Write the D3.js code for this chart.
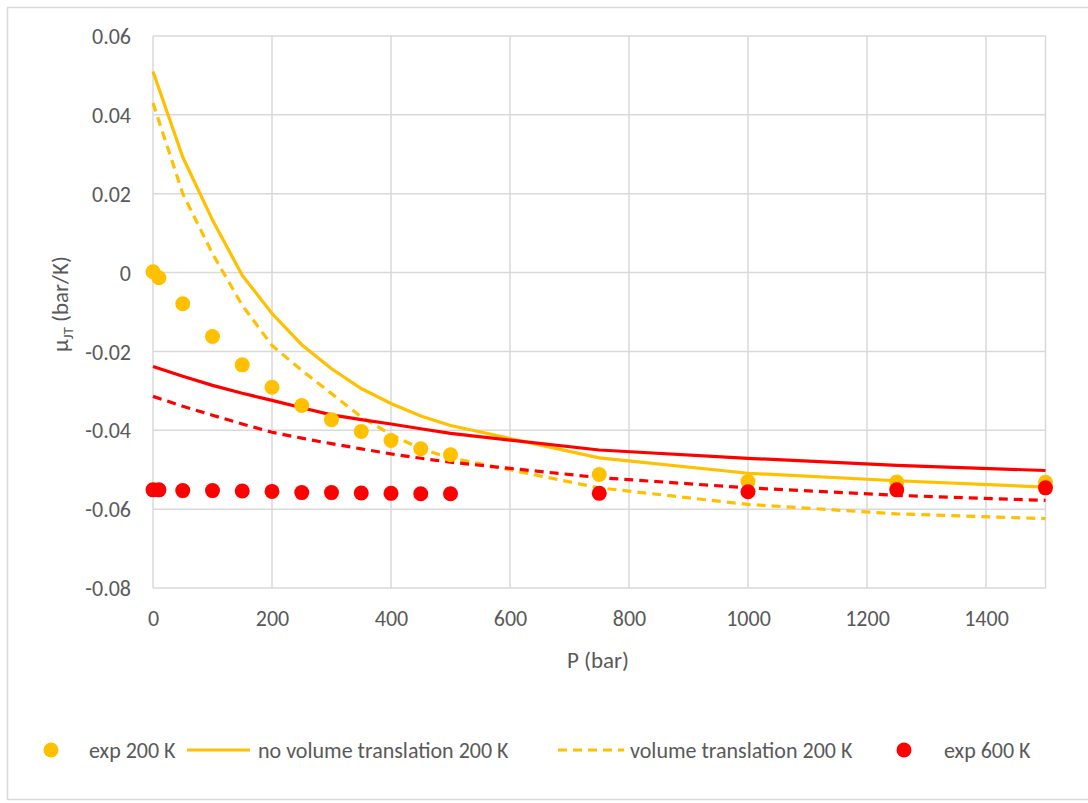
<!DOCTYPE html>
<html>
<head>
<meta charset="utf-8">
<script src="https://cdn.jsdelivr.net/npm/d3@7"></script>
<style>
  body { margin: 0; background: #fff; }
  text { font-family: Carlito, Calibri, "Open Sans", sans-serif; fill: #595959; }
</style>
</head>
<body>
<div id="chart"></div>
<script>
// pressures (bar)
var expP = [0, 10, 50, 100, 150, 200, 250, 300, 350, 400, 450, 500, 750, 1000, 1250, 1500];
var exp200 = [0.0002, -0.0013, -0.0079, -0.0162, -0.0234, -0.0291, -0.0337, -0.0373, -0.0403, -0.0426, -0.0447, -0.0462, -0.0512, -0.0530, -0.0531, -0.0532];
var exp600 = [-0.0551, -0.0551, -0.0553, -0.0553, -0.0554, -0.0555, -0.0558, -0.0558, -0.0559, -0.0560, -0.0561, -0.0561, -0.0560, -0.0556, -0.0551, -0.0546];

var modelP = [0, 50, 100, 150, 200, 250, 300, 350, 400, 450, 500, 750, 1000, 1250, 1500];
var noVT200 = [0.0510, 0.0293, 0.0133, -0.0007, -0.0104, -0.0183, -0.0244, -0.0294, -0.0332, -0.0364, -0.0388, -0.0470, -0.0509, -0.0528, -0.0544];
var vt200 = [0.0430, 0.0200, 0.0048, -0.0083, -0.0185, -0.0248, -0.0307, -0.0366, -0.0411, -0.0447, -0.0470, -0.0546, -0.0588, -0.0612, -0.0624];
var noVT600 = [-0.0238, -0.0263, -0.0286, -0.0306, -0.0324, -0.0343, -0.0361, -0.0373, -0.0384, -0.0396, -0.0408, -0.0450, -0.0471, -0.0489, -0.0502];
var vt600 = [-0.0314, -0.0339, -0.0362, -0.0384, -0.0405, -0.0420, -0.0434, -0.0447, -0.0460, -0.0471, -0.0481, -0.0520, -0.0546, -0.0565, -0.0578];

var xTicks = [0, 200, 400, 600, 800, 1000, 1200, 1400];
var yTicks = [0.06, 0.04, 0.02, 0, -0.02, -0.04, -0.06, -0.08];

var yellow = "#FFC000", red = "#FF0000";

var width = 1088, height = 803;
var margin = { top: 36, left: 153, right: 42, bottom: 215 };
var fontSize = "22px";

var svg = d3.select("#chart").append("svg")
      .attr("width", width)
      .attr("height", height);

// chart frame
svg.append("rect")
      .attr("x", 7.5).attr("y", 7.5)
      .attr("width", 1100).attr("height", 792)
      .attr("fill", "none")
      .attr("stroke", "#d9d9d9")
      .attr("stroke-width", 1.5);

var x = d3.scaleLinear().domain([0, 1500]).range([margin.left, width - margin.right - 0.5]);
var y = d3.scaleLinear().domain([-0.08, 0.06]).range([588, margin.top]);

// grid
svg.append("g").selectAll("line.v")
      .data(xTicks.concat([1500]))
      .enter().append("line")
      .attr("x1", function (d) { return x(d); })
      .attr("x2", function (d) { return x(d); })
      .attr("y1", y(0.06)).attr("y2", y(-0.08))
      .attr("stroke", "#d9d9d9").attr("stroke-width", 1.5);

svg.append("g").selectAll("line.h")
      .data(yTicks)
      .enter().append("line")
      .attr("x1", x(0)).attr("x2", x(1500))
      .attr("y1", function (d) { return y(d); })
      .attr("y2", function (d) { return y(d); })
      .attr("stroke", "#d9d9d9").attr("stroke-width", 1.5);

// axes (labels only)
var yAxis = d3.axisLeft(y).tickValues(yTicks).tickSize(0).tickPadding(22)
      .tickFormat(function (d) { return d === 0 ? "0" : d3.format(".2f")(d).replace("−", "-"); });
var gy = svg.append("g").attr("transform", "translate(" + x(0) + ",0)").call(yAxis);
gy.select(".domain").remove();
gy.selectAll("text").style("font-size", fontSize).attr("fill", "#595959").attr("dy", "0.35em");

var xAxis = d3.axisBottom(x).tickValues(xTicks).tickSize(0).tickPadding(22)
      .tickFormat(d3.format("d"));
var gx = svg.append("g").attr("transform", "translate(0," + y(-0.08) + ")").call(xAxis);
gx.select(".domain").remove();
gx.selectAll("text").style("font-size", fontSize).attr("fill", "#595959");

// lines
var line = d3.line()
      .x(function (d, i) { return x(modelP[i]); })
      .y(function (d) { return y(d); });

function addLine(values, color, dash) {
      svg.append("path")
            .attr("d", line(values))
            .attr("fill", "none")
            .attr("stroke", color)
            .attr("stroke-width", 3.2)
            .attr("stroke-dasharray", dash ? "9,6" : null);
}
addLine(noVT200, yellow, false);
addLine(vt200, yellow, true);
addLine(noVT600, red, false);
addLine(vt600, red, true);

// experimental points
function addDots(values, color) {
      svg.append("g").selectAll("circle")
            .data(values)
            .enter().append("circle")
            .attr("cx", function (d, i) { return x(expP[i]); })
            .attr("cy", function (d) { return y(d); })
            .attr("r", 7.5)
            .attr("fill", color);
}
addDots(exp200, yellow);
addDots(exp600, red);

// axis titles
svg.append("text")
      .attr("x", 598).attr("y", 668)
      .attr("text-anchor", "middle")
      .style("font-size", "23px")
      .text("P (bar)");

var yt = svg.append("text")
      .attr("transform", "translate(68,304) rotate(-90)")
      .attr("text-anchor", "middle")
      .style("font-size", "23px");
yt.append("tspan").text("μ");
yt.append("tspan").attr("dy", 5).style("font-size", "15px").text("JT");
yt.append("tspan").attr("dy", -5).text(" (bar/K)");

// legend
var ly = 750;
var legend = svg.append("g");
legend.append("circle").attr("cx", 51).attr("cy", ly).attr("r", 7.5).attr("fill", yellow);
legend.append("text").attr("x", 89).attr("y", ly).attr("dy", "0.35em").style("font-size", fontSize).text("exp 200 K");
legend.append("line").attr("x1", 187).attr("x2", 250).attr("y1", ly).attr("y2", ly)
      .attr("stroke", yellow).attr("stroke-width", 3.2);
legend.append("text").attr("x", 258).attr("y", ly).attr("dy", "0.35em").style("font-size", fontSize).text("no volume translation 200 K");
legend.append("line").attr("x1", 558).attr("x2", 624).attr("y1", ly).attr("y2", ly)
      .attr("stroke", yellow).attr("stroke-width", 3.2).attr("stroke-dasharray", "9,6");
legend.append("text").attr("x", 630).attr("y", ly).attr("dy", "0.35em").style("font-size", fontSize).text("volume translation 200 K");
legend.append("circle").attr("cx", 904).attr("cy", ly).attr("r", 7.5).attr("fill", red);
legend.append("text").attr("x", 944).attr("y", ly).attr("dy", "0.35em").style("font-size", fontSize).text("exp 600 K");
</script>
</body>
</html>
